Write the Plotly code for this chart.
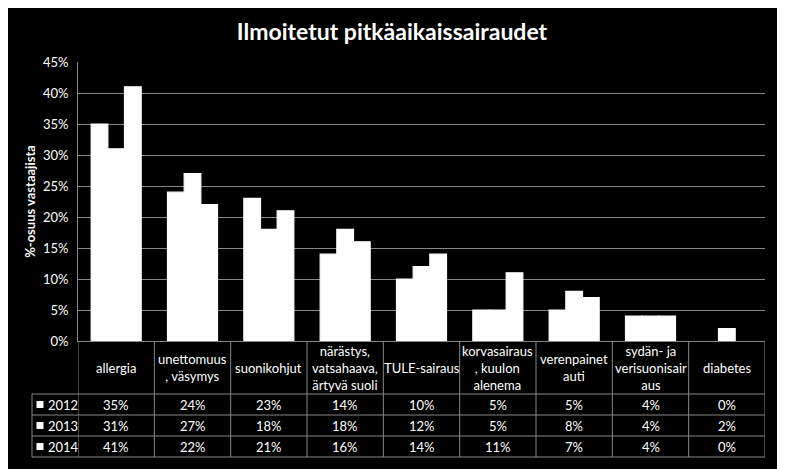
import plotly.graph_objects as go

categories = ["allergia", "unettomuus<br>, väsymys", "suonikohjut",
              "närästys,<br>vatsahaava,<br>ärtyvä suoli", "TULE-sairaus",
              "korvasairaus<br>, kuulon<br>alenema", "verenpainet<br>auti",
              "sydän- ja<br>verisuonisair<br>aus", "diabetes"]
years = ["2012", "2013", "2014"]
v2012 = [35, 24, 23, 14, 10, 5, 5, 4, 0]
v2013 = [31, 27, 18, 18, 12, 5, 8, 4, 2]
v2014 = [41, 22, 21, 16, 14, 11, 7, 4, 0]
series = [v2012, v2013, v2014]
yticks = [0, 5, 10, 15, 20, 25, 30, 35, 40, 45]

OFF = 8  # page body margin
W, H = 785 - OFF, 469 - OFF
L, R, T, B = 78 - OFF, 20, 62 - OFF, 128
FONT = "Lato"
GRID = "#878787"
plot_h = H - T - B
plot_w = W - L - R

def py(p):
    return (H - B - (p - OFF)) / plot_h

def px(p):
    return ((p - OFF) - L) / plot_w

xs = list(range(len(categories)))
fig = go.Figure()
for yr, vals in zip(years, series):
    fig.add_trace(go.Bar(x=xs, y=[v / 100 for v in vals], name=yr,
                         marker=dict(color="white",
                                     line=dict(width=[1.2 if v > 0 else 0 for v in vals],
                                               color="white")),
                         showlegend=False))

shapes = []
annotations = []
row_tops = [341, 394, 415, 436, 457]
for p in row_tops[1:]:
    shapes.append(dict(type="line", xref="paper", yref="paper", x0=px(32), x1=1,
                       y0=py(p), y1=py(p), line=dict(color=GRID, width=1)))
for i in range(len(categories) + 1):
    shapes.append(dict(type="line", xref="x", yref="paper", x0=i - 0.5, x1=i - 0.5,
                       y0=0, y1=py(457), line=dict(color=GRID, width=1)))
shapes.append(dict(type="line", xref="paper", yref="paper", x0=px(32), x1=px(32),
                   y0=py(394), y1=py(457), line=dict(color=GRID, width=1)))

for i, c in enumerate(categories):
    annotations.append(dict(x=i, y=py(367.5), xref="x", yref="paper", text=c,
                            showarrow=False, font=dict(color="white", size=13, family=FONT),
                            xanchor="center", yanchor="middle"))
for r, (yr, vals) in enumerate(zip(years, series)):
    ymid = (row_tops[r + 1] + row_tops[r + 2]) / 2
    yc = py(ymid)
    shapes.append(dict(type="rect", xref="paper", yref="paper", x0=px(36.5), x1=px(43.5),
                       y0=py(ymid + 3.5), y1=py(ymid - 3.5), fillcolor="white",
                       line=dict(width=0)))
    annotations.append(dict(x=px(46), y=yc, xref="paper", yref="paper",
                            text=yr, showarrow=False, xanchor="left", yanchor="middle",
                            font=dict(color="white", size=13, family=FONT)))
    for i, v in enumerate(vals):
        annotations.append(dict(x=i, y=yc, xref="x", yref="paper", text=f"{v}%",
                                showarrow=False, xanchor="center", yanchor="middle",
                                font=dict(color="white", size=13, family=FONT)))

fig.update_layout(
    width=W, height=H, paper_bgcolor="black", plot_bgcolor="black",
    margin=dict(l=L, r=R, t=T, b=B),
    barmode="group", bargap=0.345, bargroupgap=0,
    title=dict(text="<b>Ilmoitetut pitkäaikaissairaudet</b>", x=px(392), xref="paper",
               y=1 - (32 - OFF) / H, yanchor="middle", xanchor="center",
               font=dict(color="white", size=23, family=FONT)),
    xaxis=dict(range=[-0.5, len(categories) - 0.5], showticklabels=False, showgrid=False,
               showline=True, linecolor=GRID, linewidth=1, zeroline=False, ticks=""),
    yaxis=dict(range=[0, 0.45], tickvals=[t / 100 for t in yticks],
               ticktext=[f"{t}%" for t in yticks], showgrid=True, gridcolor=GRID,
               gridwidth=1, showline=True, linecolor=GRID, linewidth=1, zeroline=False,
               ticks="", ticklen=0, ticklabelstandoff=6,
               tickfont=dict(color="white", size=13, family=FONT),
               title=dict(text="<b>%-osuus vastaajista</b>", standoff=4,
                          font=dict(color="white", size=13, family=FONT))),
    shapes=shapes, annotations=annotations,
)
fig.write_html("out.html")
